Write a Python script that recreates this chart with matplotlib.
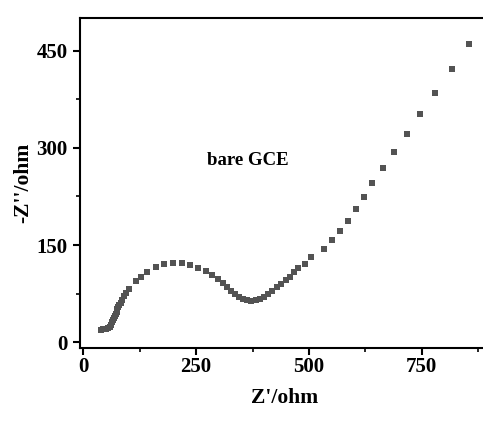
import matplotlib
matplotlib.use("Agg")
import matplotlib.pyplot as plt
from matplotlib.ticker import MultipleLocator

plt.rcParams["font.family"] = ["Liberation Serif", "DejaVu Serif"]
plt.rcParams["font.weight"] = "bold"

# Nyquist data for bare GCE
z_real = [39.2, 44.7, 50.3, 55.4, 59.1, 62.0, 64.2, 66.4, 68.4, 70.2, 72.0, 73.9,
          75.7, 77.5, 80.1, 82.8, 86.8, 90.8, 95.6, 101.2, 116.7, 127.7, 141.7,
          161.4, 179.8, 198.6, 218.1, 236.7, 255.1, 271.7, 286.1, 298.2, 308.9,
          318.6, 328.1, 337.0, 345.8, 354.7, 363.5, 372.4, 382.4, 391.9, 401.2,
          410.0, 418.9, 428.9, 438.8, 448.4, 458.3, 466.5, 475.3, 491.5, 503.5,
          532.9, 550.0, 567.9, 586.5, 604.4, 620.8, 639.8, 664.0, 688.3, 716.0,
          747.0, 779.8, 815.9, 854.6]
z_imag = [19.4, 19.8, 20.2, 21.3, 23.6, 26.7, 30.6, 34.4, 37.8, 40.9, 44.1, 47.2,
          50.6, 54.0, 57.6, 61.1, 66.0, 71.0, 76.4, 81.8, 93.8, 101.2, 108.9,
          116.5, 120.8, 122.8, 121.9, 119.0, 115.0, 110.5, 103.8, 97.7, 91.5,
          85.3, 79.5, 74.5, 70.2, 66.8, 64.5, 63.7, 64.5, 66.8, 69.9,
          74.5, 79.6, 84.9, 90.0, 95.4, 101.5, 107.7, 114.2, 121.3, 131.6,
          143.5, 157.1, 172.2, 187.2, 205.2, 224.2, 245.3, 268.9, 294.1, 321.9,
          352.0, 385.1, 421.2, 459.8]
x_ticks = [0, 250, 500, 750]
y_ticks = [0, 150, 300, 450]

fig = plt.figure(figsize=(4.83, 4.21), dpi=100)
# axes run past the right edge, as in the cropped original
ax = fig.add_axes([0.1656, 0.1727, 0.848, 0.7838])

ax.plot(z_real, z_imag, "s", color="#535353", markersize=3.7, markeredgewidth=0)

ax.set_xlim(-7.3, 900)
ax.set_ylim(-9.3, 500)
ax.set_xticks(x_ticks)
ax.set_yticks(y_ticks)
ax.xaxis.set_minor_locator(MultipleLocator(125))
ax.yaxis.set_minor_locator(MultipleLocator(75))
ax.tick_params(which="major", direction="out", length=5, width=1.5, labelsize=15)
ax.tick_params(axis="x", which="major", pad=1.5)
ax.tick_params(axis="y", which="major", pad=4)
ax.tick_params(which="minor", direction="out", length=3, width=1.2)
for s in ax.spines.values():
    s.set_linewidth(1.5)

ax.set_xlabel("Z'/ohm", fontsize=15.5, fontweight="bold", labelpad=8)
ax.set_ylabel("-Z''/ohm", fontsize=15.5, fontweight="bold", labelpad=2)
ax.text(365, 281, "bare GCE", fontsize=13.5, fontweight="bold", ha="center", va="center")

fig.savefig("out.png", dpi=100)
